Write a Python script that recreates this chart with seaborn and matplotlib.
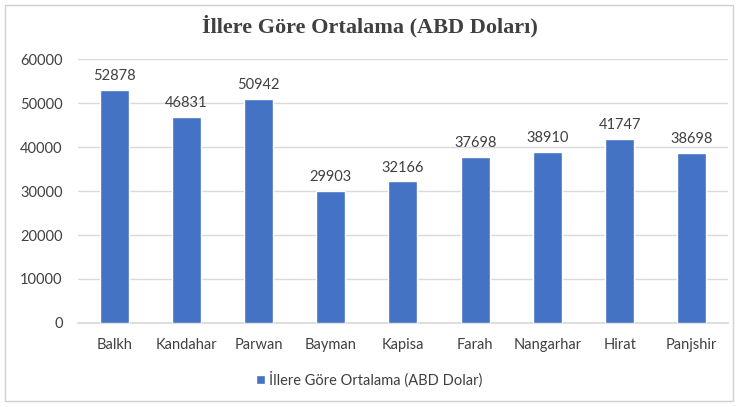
import matplotlib
matplotlib.use("Agg")
import matplotlib.pyplot as plt
import seaborn as sns
import pandas as pd
from matplotlib.patches import Rectangle

provinces = ["Balkh", "Kandahar", "Parwan", "Bayman", "Kapisa", "Farah",
             "Nangarhar", "Hirat", "Panjshir"]
values = [52878, 46831, 50942, 29903, 32166, 37698, 38910, 41747, 38698]
yticks = [0, 10000, 20000, 30000, 40000, 50000, 60000]
title = "İllere Göre Ortalama (ABD Doları)"
series_name = "İllere Göre Ortalama (ABD Dolar)"

df = pd.DataFrame({"il": provinces, "deger": values})

sns.set_theme(style="white")
plt.rcParams['font.family'] = ['Lato', 'DejaVu Sans']

fig = plt.figure(figsize=(7.39, 4.07), dpi=100)
ax = fig.add_axes([0.1055, 0.2064, 0.8795, 0.6486])

blue = "#4472C4"
sns.barplot(data=df, x="il", y="deger", color=blue, width=0.40, ax=ax,
            saturation=1, label=series_name, zorder=3)

ax.set_ylim(0, 60000)
ax.set_yticks(yticks)
ax.set_yticklabels([str(v) for v in yticks])
ax.set_xlim(-0.5, len(provinces) - 0.5)
ax.yaxis.grid(True, color="#D9D9D9", linewidth=1, zorder=0)
ax.set_axisbelow(True)
for s in ["top", "right", "left"]:
    ax.spines[s].set_visible(False)
ax.spines["bottom"].set_color("#D9D9D9")
ax.tick_params(axis="both", length=0, labelsize=10.5, labelcolor="#404040")
ax.tick_params(axis="x", pad=11)
ax.tick_params(axis="y", pad=11)
ax.set_xlabel("")
ax.set_ylabel("")

for c in ax.containers:
    ax.bar_label(c, labels=[str(v) for v in values], padding=5,
                 fontsize=10.5, color="#404040")

fig.text(0.5, 0.935, title, ha="center", va="center", fontsize=16,
         fontweight="bold", family="Liberation Serif", color="#404040")

leg = ax.legend(loc="center", bbox_to_anchor=(0.5, 0.068),
                bbox_transform=fig.transFigure, frameon=False,
                fontsize=10.5, handlelength=0.6, handleheight=0.6,
                handletextpad=0.3)
for t in leg.get_texts():
    t.set_color("#404040")

fig.patches.append(Rectangle((0.007, 0.015), 0.985, 0.972, transform=fig.transFigure,
                             fill=False, edgecolor="#D0D0D0", linewidth=1))

fig.savefig("out.png", dpi=100)
